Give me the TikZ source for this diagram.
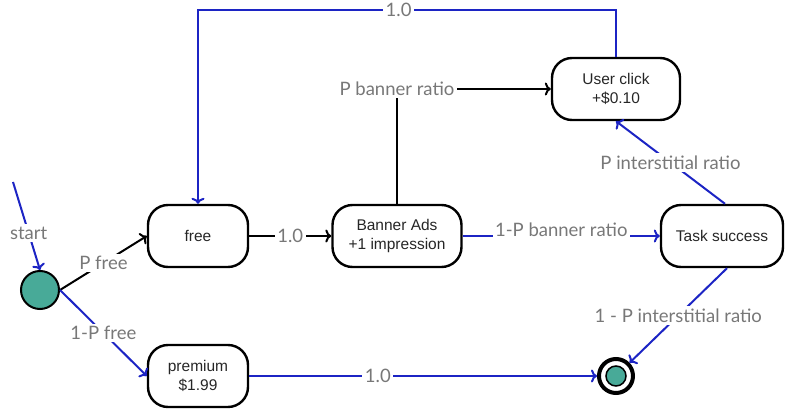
\documentclass[tikz,border=0pt]{standalone}
\usepackage{fontspec}
\setmainfont{Liberation Sans}
\newfontfamily\lblfont{Lato}
\usetikzlibrary{arrows.meta}
\definecolor{edgeblue}{RGB}{28,36,196}
\definecolor{lblgray}{RGB}{120,120,120}
\definecolor{tealfill}{RGB}{72,170,152}
\begin{document}
\begin{tikzpicture}[x=1pt,y=-1pt,
  state/.style={draw, line width=2.4pt, rounded corners=20pt, minimum height=62pt,
    align=center, font=\fontsize{15.5}{19}\selectfont, text=black!85, inner sep=2pt},
  lbl/.style={fill=white, text=lblgray, font=\lblfont\fontsize{18.5}{20}\selectfont, inner sep=2.5pt},
  bluearr/.style={draw=edgeblue, line width=2pt, -{To[length=6pt,width=13pt]}},
  blackarr/.style={draw=black, line width=2pt, -{To[length=6pt,width=13pt]}},
]
\useasboundingbox (0,0) rectangle (785,411);
\node[state, minimum width=100pt] (free) at (198,236) {free};
\node[state, minimum width=129pt] (banner) at (397,236) {Banner Ads\\+1 impression};
\node[state, minimum width=128pt] (uclick) at (616,89) {User click\\+\$0.10};
\node[state, minimum width=122pt] (task) at (722,236) {Task success};
\node[state, minimum width=100pt] (premium) at (198,376) {premium\\\$1.99};
\node[circle, draw, line width=2pt, fill=tealfill, minimum size=38pt, inner sep=0pt] (start) at (40,290) {};
\node[circle, draw, line width=4pt, fill=white, minimum size=34pt, inner sep=0pt] (end) at (616,376) {};
\node[circle, draw, line width=1.5pt, fill=tealfill, minimum size=20pt, inner sep=0pt] (endin) at (616,376) {};
\coordinate (tl) at (198,10);
\coordinate (tr) at (616,10);
\coordinate (s0) at (13,182);
\draw[bluearr] (uclick.north) -- (tr) -- node[lbl, pos=0.52]{1.0} (tl) -- (free.north);
\draw[blackarr] (free) -- node[lbl]{1.0} (banner);
\draw[blackarr] (banner.north) |- node[lbl]{P banner ratio} (uclick.west);
\draw[bluearr] (banner) -- node[lbl, yshift=6pt]{1-P banner ratio} (task);
\draw[bluearr] ([xshift=3pt]task.north) -- node[lbl]{P interstitial ratio} (uclick.south);
\draw[bluearr] ([xshift=5pt]task.south) -- node[lbl]{1 - P interstitial ratio} (end);
\draw[bluearr] (premium) -- node[lbl, pos=0.37]{1.0} (end);
\draw[bluearr] (s0) -- node[lbl, pos=0.58]{start} (start.north);
\draw[blackarr] (start.east) -- node[lbl]{P free} (free.west);
\draw[bluearr] (start.east) -- node[lbl]{1-P free} (premium.west);
\end{tikzpicture}
\end{document}
